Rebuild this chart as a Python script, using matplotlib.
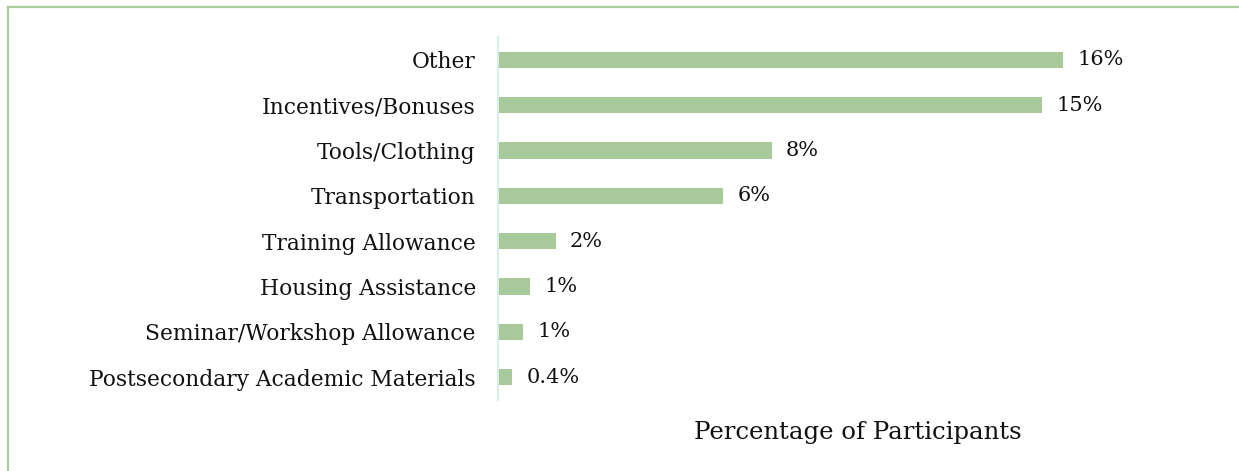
import matplotlib
matplotlib.use("Agg")
import matplotlib.pyplot as plt
from matplotlib.lines import Line2D

categories = ["Other", "Incentives/Bonuses", "Tools/Clothing", "Transportation",
              "Training Allowance", "Housing Assistance",
              "Seminar/Workshop Allowance", "Postsecondary Academic Materials"]
values = [15.7, 15.1, 7.6, 6.25, 1.6, 0.9, 0.7, 0.4]  # percent
value_labels = ["16%", "15%", "8%", "6%", "2%", "1%", "1%", "0.4%"]

bar_color = "#a8c99a"
frame_color = "#a8cc9c"
axis_color = "#d6efe8"
text_color = "#111111"

plt.rcParams['font.family'] = ['DejaVu Serif']

fig = plt.figure(figsize=(12.39, 4.71), dpi=100)
ax = fig.add_axes([498 / 1239, 1 - 400 / 471, (1218 - 498) / 1239, 363 / 471])

y = list(range(len(categories)))
ax.barh(y, values, height=0.36, color=bar_color)
for yi, v, lab in zip(y, values, value_labels):
    ax.text(v + 0.4, yi, lab, va="center", ha="left", fontsize=15, color=text_color)

ax.set_yticks(y)
ax.set_yticklabels(categories, fontsize=15.7, color=text_color)
ax.set_ylim(len(categories) - 0.5, -0.5)
ax.set_xlim(0, 20)
ax.set_xticks([])
ax.tick_params(axis="y", length=0, pad=16)

for s in ["top", "right", "bottom"]:
    ax.spines[s].set_visible(False)
ax.spines["left"].set_color(axis_color)
ax.spines["left"].set_linewidth(1.5)

fig.text(858 / 1239, 1 - 432 / 471, "Percentage of Participants",
         ha="center", va="center", fontsize=17.6, color=text_color)

# green frame on left and top of the figure
fig.add_artist(Line2D([8 / 1239, 8 / 1239], [0, 1 - 7 / 471], transform=fig.transFigure,
                      color=frame_color, lw=1.6))
fig.add_artist(Line2D([8 / 1239, 1], [1 - 7 / 471, 1 - 7 / 471], transform=fig.transFigure,
                      color=frame_color, lw=1.6))

fig.savefig("out.png", dpi=100)
